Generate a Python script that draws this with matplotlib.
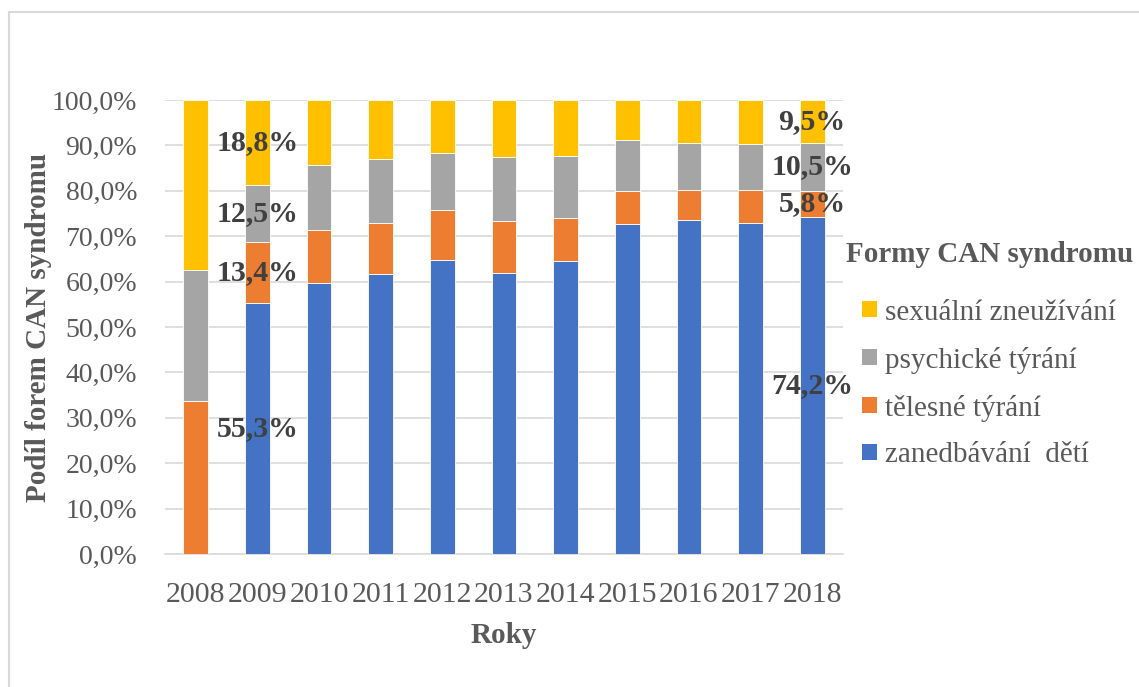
import matplotlib
matplotlib.use("Agg")
import matplotlib.pyplot as plt
from matplotlib.patches import Patch
from matplotlib.lines import Line2D
from matplotlib.ticker import FuncFormatter

plt.rcParams['font.family'] = ['Liberation Serif', 'DejaVu Serif']

# podíly forem CAN syndromu v jednotlivých letech (%)
roky = ["2008", "2009", "2010", "2011", "2012", "2013", "2014", "2015", "2016", "2017", "2018"]
zanedbavani = [0.0, 55.3, 59.8, 61.6, 64.7, 61.8, 64.5, 72.7, 73.6, 73.0, 74.2]
telesne = [33.8, 13.4, 11.6, 11.2, 11.0, 11.5, 9.4, 7.2, 6.6, 7.2, 5.8]
psychicke = [28.8, 12.5, 14.3, 14.3, 12.7, 14.1, 13.8, 11.3, 10.4, 10.1, 10.5]
sexualni = [37.4, 18.8, 14.3, 12.9, 11.6, 12.6, 12.3, 8.8, 9.4, 9.7, 9.5]

nazvy = ["zanedbávání  dětí", "tělesné týrání", "psychické týrání", "sexuální zneužívání"]
barvy = ["#4472C4", "#ED7D31", "#A5A5A5", "#FFC000"]
popsane_roky = ["2009", "2018"]  # roky s popisky hodnot

seda = "#595959"

fig = plt.figure(figsize=(11.39, 6.87), dpi=100)
ax = fig.add_axes([165 / 1139, 1 - 554 / 687, 678 / 1139, 454 / 687])

x = list(range(len(roky)))
spodek = [0.0] * len(roky)
for rada, barva in zip([zanedbavani, telesne, psychicke, sexualni], barvy):
    ax.bar(x, rada, width=0.4, bottom=spodek, color=barva, edgecolor="white",
           linewidth=0.6, zorder=3)
    for i, rok in enumerate(roky):
        if rok in popsane_roky:
            ax.text(i, spodek[i] + rada[i] / 2, f"{rada[i]:.1f}%".replace(".", ","),
                    ha="center", va="center", fontsize=21.5, fontweight="bold",
                    color="#404040", zorder=5)
    spodek = [s + v for s, v in zip(spodek, rada)]

ax.set_xlim(-0.5, len(roky) - 0.5)
ax.set_ylim(0, 100)
ax.set_yticks(range(0, 101, 10))
ax.yaxis.set_major_formatter(FuncFormatter(lambda v, p: f"{v:.1f}%".replace(".", ",")))
ax.set_xticks(x)
ax.set_xticklabels(roky)
ax.tick_params(length=0, labelcolor=seda)
ax.tick_params(axis="y", pad=20, labelsize=20)
ax.tick_params(axis="x", pad=20, labelsize=21.5)
ax.grid(axis="y", color="#D9D9D9", linewidth=1.2, zorder=0)
for s in ["top", "right", "left"]:
    ax.spines[s].set_visible(False)
ax.spines["bottom"].set_color("#D9D9D9")
ax.spines["bottom"].set_linewidth(1.2)

ax.set_xlabel("Roky", fontsize=21, fontweight="bold", color=seda, labelpad=10)
ax.set_ylabel("Podíl forem CAN syndromu", fontsize=21, fontweight="bold", color=seda, labelpad=0)

# legenda v obráceném pořadí (shora sexuální zneužívání), nadpis zvlášť
fig.text(990 / 1139, 1 - 254 / 687, "Formy CAN syndromu", ha="center", va="center",
         fontsize=21, fontweight="bold", color=seda)
handles = [Patch(facecolor=b, edgecolor="none") for b in barvy][::-1]
leg = fig.legend(handles, nazvy[::-1], loc="center left",
                 bbox_to_anchor=(862 / 1139, 1 - 384 / 687), frameon=False, fontsize=21,
                 handlelength=0.5, handleheight=0.5, handletextpad=0.3, labelspacing=0.72,
                 borderaxespad=0, borderpad=0)
for t in leg.get_texts():
    t.set_color(seda)

# rámeček grafu
fig.add_artist(Line2D([9 / 1139, 9 / 1139], [0, 1 - 12 / 687], color="#D9D9D9", linewidth=1.5))
fig.add_artist(Line2D([9 / 1139, 1], [1 - 12 / 687, 1 - 12 / 687], color="#D9D9D9", linewidth=1.5))

fig.savefig("out.png", dpi=100)
